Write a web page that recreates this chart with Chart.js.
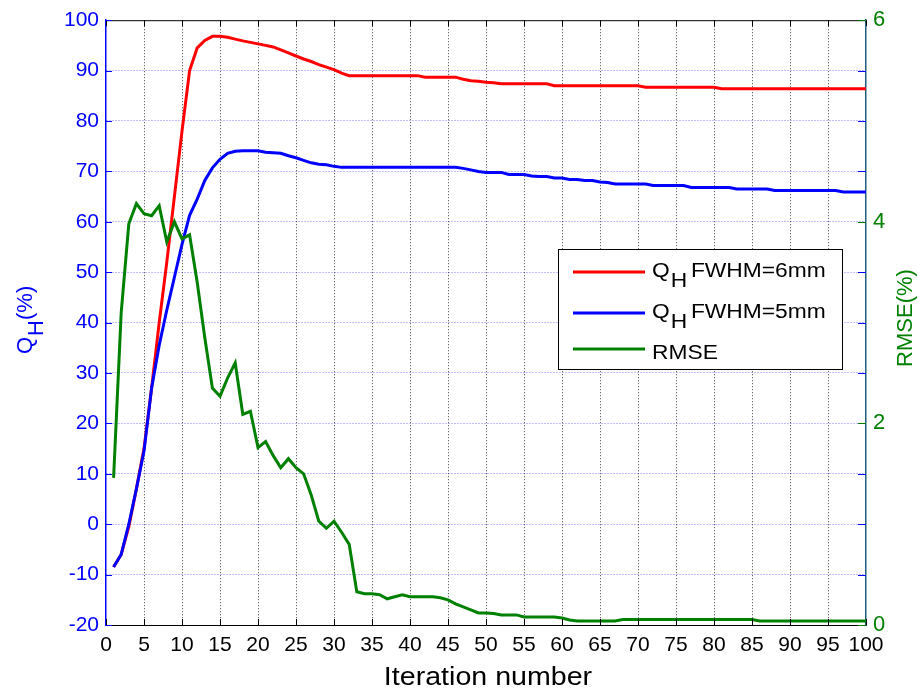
<!DOCTYPE html>
<html>
<head>
<meta charset="utf-8">
<script src="https://cdn.jsdelivr.net/npm/chart.js@4.4.1/dist/chart.umd.min.js"></script>
<style>
  html, body { margin: 0; padding: 0; background: #fff; }
  #wrap { width: 917px; height: 691px; }
</style>
</head>
<body>
<div id="wrap"><canvas id="chart" width="917" height="691"></canvas></div>
<script>
// iteration index 1..100
const iterations = Array.from({ length: 100 }, (_, i) => i + 1);

// Q_H FWHM=6mm (%), left axis
const qh6mm = [
  -8.5, -6, -0.5, 7, 15, 27, 40, 52, 65, 78,
  90, 94.5, 96, 96.8, 96.8, 96.6, 96.25, 95.9, 95.6, 95.3,
  95.0, 94.7, 94.1, 93.5, 92.9, 92.3, 91.8, 91.2, 90.7, 90.2,
  89.5, 89.0, 89, 89, 89, 89, 89, 89, 89, 89,
  89, 88.7, 88.7, 88.7, 88.7, 88.7, 88.3, 88.0, 87.9, 87.7,
  87.6, 87.4, 87.4, 87.4, 87.4, 87.4, 87.4, 87.4, 87.0, 87.0,
  87.0, 87.0, 87.0, 87.0, 87.0, 87.0, 87.0, 87.0, 87.0, 87.0,
  86.7, 86.7, 86.7, 86.7, 86.7, 86.7, 86.7, 86.7, 86.7, 86.7,
  86.4, 86.4, 86.4, 86.4, 86.4, 86.4, 86.4, 86.4, 86.4, 86.4,
  86.4, 86.4, 86.4, 86.4, 86.4, 86.4, 86.4, 86.4, 86.4, 86.4
];

// Q_H FWHM=5mm (%), left axis
const qh5mm = [
  -8.5, -6, 0, 7, 14.5, 27, 35.5, 42.5, 49, 55.5,
  61.3, 64.5, 68.2, 70.7, 72.4, 73.6, 74.0, 74.1, 74.1, 74.1,
  73.8, 73.7, 73.6, 73.1, 72.7, 72.2, 71.7, 71.4, 71.3, 71.0,
  70.8, 70.8, 70.8, 70.8, 70.8, 70.8, 70.8, 70.8, 70.8, 70.8,
  70.8, 70.8, 70.8, 70.8, 70.8, 70.8, 70.6, 70.3, 70.0, 69.8,
  69.8, 69.8, 69.4, 69.4, 69.4, 69.1, 69.0, 69.0, 68.7, 68.7,
  68.4, 68.4, 68.2, 68.2, 67.9, 67.8, 67.5, 67.5, 67.5, 67.5,
  67.5, 67.2, 67.2, 67.2, 67.2, 67.2, 66.8, 66.8, 66.8, 66.8,
  66.8, 66.8, 66.5, 66.5, 66.5, 66.5, 66.5, 66.2, 66.2, 66.2,
  66.2, 66.2, 66.2, 66.2, 66.2, 66.2, 65.9, 65.9, 65.9, 65.9
];

// RMSE (%), right axis
const rmse = [
  1.46, 3.10, 3.98, 4.18, 4.08, 4.06, 4.16, 3.80, 4.00, 3.83,
  3.87, 3.40, 2.85, 2.35, 2.27, 2.45, 2.60, 2.09, 2.12, 1.76,
  1.82, 1.68, 1.56, 1.65, 1.56, 1.50, 1.29, 1.03, 0.96, 1.03,
  0.92, 0.80, 0.33, 0.31, 0.31, 0.30, 0.26, 0.28, 0.30, 0.28,
  0.28, 0.28, 0.28, 0.27, 0.25, 0.21, 0.18, 0.15, 0.12, 0.12,
  0.115, 0.10, 0.10, 0.10, 0.08, 0.08, 0.08, 0.08, 0.08, 0.07,
  0.05, 0.04, 0.04, 0.04, 0.04, 0.04, 0.04, 0.055, 0.055, 0.055,
  0.055, 0.055, 0.055, 0.055, 0.055, 0.055, 0.055, 0.055, 0.055, 0.055,
  0.055, 0.055, 0.055, 0.055, 0.055, 0.04, 0.04, 0.04, 0.04, 0.04,
  0.04, 0.04, 0.04, 0.04, 0.04, 0.04, 0.04, 0.04, 0.04, 0.04
];

// tick values
const xTickValues = [0, 5, 10, 15, 20, 25, 30, 35, 40, 45, 50, 55, 60, 65, 70, 75, 80, 85, 90, 95, 100];
const leftTickValues = [-20, -10, 0, 10, 20, 30, 40, 50, 60, 70, 80, 90, 100];
const rightTickValues = [0, 2, 4, 6];

// legend rows: base text, subscript, rest
const legendRows = [
  { color: '#ff0000', base: 'Q', sub: 'H', rest: ' FWHM=6mm' },
  { color: '#0000ff', base: 'Q', sub: 'H', rest: ' FWHM=5mm' },
  { color: '#008000', base: 'RMSE', sub: '', rest: '' }
];

const FONT = '"Liberation Sans", Arial, Helvetica, sans-serif';
const BLUE = '#0000ff';
const GREEN = '#008000';

function toPoints(values) {
  return iterations.map((it, i) => ({ x: it, y: values[i] }));
}

const framePlugin = {
  id: 'matlabFrame',
  afterDatasetsDraw(chart) {
    const { ctx, chartArea: a, scales } = chart;
    const x = scales.x, yl = scales.y, yr = scales.y2;
    ctx.save();
    ctx.lineWidth = 1;

    // top edge
    ctx.strokeStyle = '#000';
    ctx.beginPath();
    ctx.moveTo(a.left, a.top + 0.5);
    ctx.lineTo(a.right, a.top + 0.5);
    ctx.stroke();

    // x ticks, inward at bottom and top
    ctx.beginPath();
    xTickValues.forEach(v => {
      const px = Math.round(x.getPixelForValue(v)) + 0.5;
      ctx.moveTo(px, a.bottom);
      ctx.lineTo(px, a.bottom - 6);
      ctx.moveTo(px, a.top);
      ctx.lineTo(px, a.top + 6);
    });
    ctx.stroke();

    // left axis ticks, on both sides
    ctx.strokeStyle = BLUE;
    ctx.beginPath();
    leftTickValues.forEach(v => {
      const py = Math.round(yl.getPixelForValue(v)) + 0.5;
      ctx.moveTo(a.left, py);
      ctx.lineTo(a.left + 6, py);
      ctx.moveTo(a.right, py);
      ctx.lineTo(a.right - 8, py);
    });
    ctx.stroke();

    // right axis ticks
    ctx.strokeStyle = GREEN;
    ctx.beginPath();
    rightTickValues.forEach(v => {
      const py = Math.round(yr.getPixelForValue(v)) + 0.5;
      ctx.moveTo(a.right, py);
      ctx.lineTo(a.right - 8, py);
    });
    ctx.stroke();
    ctx.restore();
  },
  afterDraw(chart) {
    const { ctx, chartArea: a } = chart;
    ctx.save();

    // x axis title (slightly widened, like the source rendering)
    ctx.save();
    ctx.translate((a.left + a.right) / 2 + 2, 685);
    ctx.scale(1.1, 1);
    ctx.fillStyle = '#000';
    ctx.font = '26px ' + FONT;
    ctx.textAlign = 'center';
    ctx.textBaseline = 'alphabetic';
    ctx.fillText('Iteration number', 0, 0);
    ctx.restore();

    // left title Q_H(%)
    ctx.save();
    ctx.translate(32, 354);
    ctx.rotate(-Math.PI / 2);
    ctx.fillStyle = BLUE;
    ctx.font = '22px ' + FONT;
    ctx.textAlign = 'left';
    ctx.fillText('Q', 0, 0);
    let w = ctx.measureText('Q').width;
    ctx.fillText('H', w + 1, 11);
    w += ctx.measureText('H').width + 1;
    ctx.fillText('(%)', w, 0);
    ctx.restore();

    // right title
    ctx.save();
    ctx.translate(912, 318);
    ctx.rotate(-Math.PI / 2);
    ctx.fillStyle = GREEN;
    ctx.font = '22px ' + FONT;
    ctx.textAlign = 'center';
    ctx.fillText('RMSE(%)', 0, 0);
    ctx.restore();

    // legend
    const box = { x: 558.5, y: 249.5, w: 284, h: 120 };
    ctx.fillStyle = '#fff';
    ctx.fillRect(box.x, box.y, box.w, box.h);
    ctx.strokeStyle = '#000';
    ctx.lineWidth = 1;
    ctx.strokeRect(box.x, box.y, box.w, box.h);

    const lineYs = [272, 313, 349];
    const baseYs = [277, 318, 359];
    legendRows.forEach((row, i) => {
      ctx.strokeStyle = row.color;
      ctx.lineWidth = 3;
      ctx.beginPath();
      ctx.moveTo(573, lineYs[i]);
      ctx.lineTo(645, lineYs[i]);
      ctx.stroke();

      ctx.save();
      ctx.translate(652, baseYs[i]);
      ctx.scale(1.14, 1);
      ctx.font = '20px ' + FONT;
      ctx.textAlign = 'left';
      ctx.fillStyle = '#000';
      ctx.fillText(row.base, 0, 0);
      if (row.sub) {
        const bw = ctx.measureText(row.base).width;
        ctx.fillText(row.sub, bw + 1, 10);
        ctx.fillText(row.rest, 28 / 1.14 + 4, 0);
      }
      ctx.restore();
    });
    ctx.restore();
  }
};

new Chart(document.getElementById('chart'), {
  type: 'line',
  data: {
    datasets: [
      {
        label: 'QH FWHM=6mm',
        data: toPoints(qh6mm),
        yAxisID: 'y',
        borderColor: '#ff0000',
        borderWidth: 3,
        pointRadius: 0,
        tension: 0,
        order: 2
      },
      {
        label: 'QH FWHM=5mm',
        data: toPoints(qh5mm),
        yAxisID: 'y',
        borderColor: '#0000ff',
        borderWidth: 3,
        pointRadius: 0,
        tension: 0,
        order: 1
      },
      {
        label: 'RMSE',
        data: toPoints(rmse),
        yAxisID: 'y2',
        borderColor: '#008000',
        borderWidth: 3,
        pointRadius: 0,
        tension: 0,
        order: 0
      }
    ]
  },
  options: {
    responsive: false,
    animation: false,
    devicePixelRatio: 1,
    layout: { padding: { top: 17, left: 0, right: 0, bottom: 0 } },
    plugins: {
      legend: { display: false },
      tooltip: { enabled: false }
    },
    scales: {
      x: {
        type: 'linear',
        min: 0,
        max: 100,
        afterBuildTicks: s => { s.ticks = xTickValues.map(v => ({ value: v })); },
        afterFit: s => { s.height = 66; },
        ticks: {
          color: '#000',
          font: { family: FONT, size: 21 },
          padding: 8,
          autoSkip: false,
          maxRotation: 0
        },
        grid: {
          drawTicks: false,
          color: ctx => (ctx.tick && (ctx.tick.value === 0 || ctx.tick.value === 100)) ? 'rgba(0,0,0,0)' : '#444',
          lineWidth: 1
        },
        border: { color: '#000', width: 1, dash: [1, 2] }
      },
      y: {
        position: 'left',
        min: -20,
        max: 100,
        afterBuildTicks: s => { s.ticks = leftTickValues.map(v => ({ value: v })); },
        afterFit: s => { s.width = 106; },
        ticks: {
          color: BLUE,
          font: { family: FONT, size: 21 },
          padding: 7
        },
        grid: {
          drawTicks: false,
          color: ctx => (ctx.tick && (ctx.tick.value === -20 || ctx.tick.value === 100)) ? 'rgba(0,0,0,0)' : 'rgba(0,0,255,0.5)',
          lineWidth: 1
        },
        border: { color: BLUE, width: 1.5, dash: [1, 2] }
      },
      y2: {
        position: 'right',
        min: 0,
        max: 6,
        afterBuildTicks: s => { s.ticks = rightTickValues.map(v => ({ value: v })); },
        afterFit: s => { s.width = 51; },
        ticks: {
          color: GREEN,
          font: { family: FONT, size: 22 },
          padding: 7
        },
        grid: { drawTicks: false, drawOnChartArea: false },
        border: { color: '#1f5f7f', width: 1.5 }
      }
    }
  },
  plugins: [framePlugin]
});
</script>
</body>
</html>
